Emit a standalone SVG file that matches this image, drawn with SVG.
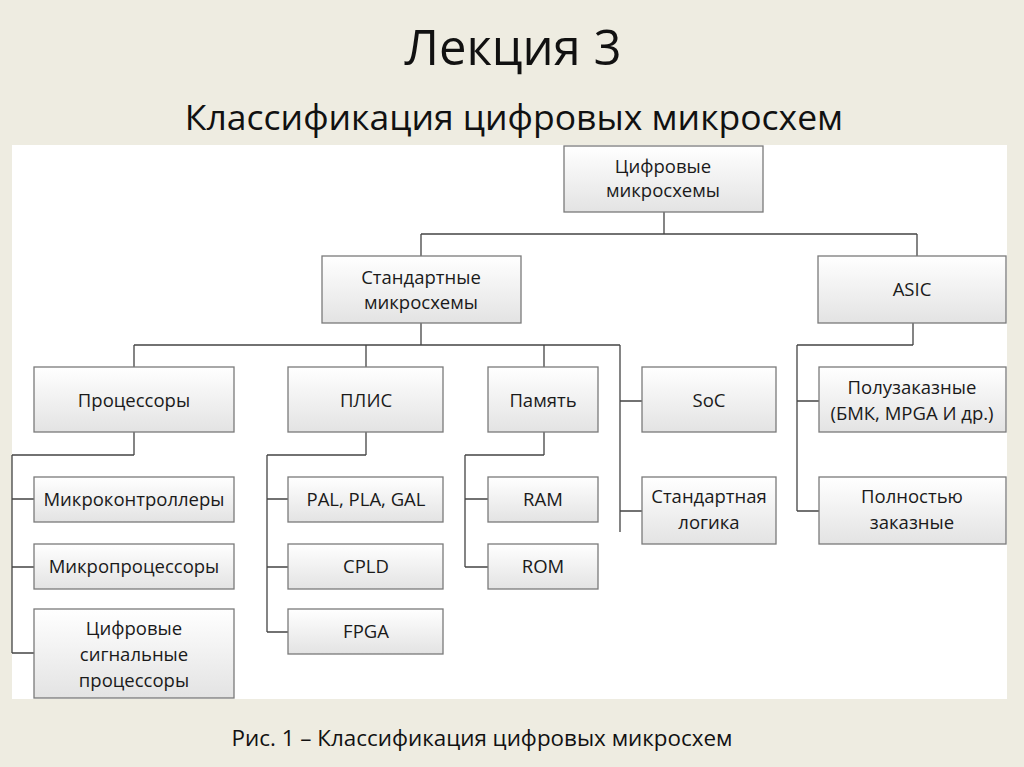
<svg xmlns="http://www.w3.org/2000/svg" width="1024" height="767" viewBox="0 0 1024 767">
<defs>
<linearGradient id="g" x1="0" y1="0" x2="0" y2="1">
<stop offset="0" stop-color="#ffffff"/>
<stop offset="1" stop-color="#e3e3e3"/>
</linearGradient>
<style>
.n rect{fill:url(#g);stroke:#7a7a7a;stroke-width:1.3}
.n text{font-family:"Open Sans","Liberation Sans",sans-serif;font-size:18.5px;fill:#1a1a1a;text-anchor:middle}
#connectors path{fill:none;stroke:#444;stroke-width:1.3}
.t{font-family:"Open Sans","Liberation Sans",sans-serif;fill:#111;text-anchor:middle}
</style>
</defs>
<rect x="0" y="0" width="1024" height="767" fill="#eeece1"/>
<rect x="12" y="145" width="995" height="554" fill="#ffffff"/>
<text class="t" x="513" y="65" font-size="49">Лекция 3</text>
<text class="t" x="514" y="130" font-size="35.5">Классификация цифровых микросхем</text>
<text class="t" x="482" y="746" font-size="22.4">Рис. 1 – Классификация цифровых микросхем</text>

<g id="connectors">
<path d="M664,212V234M421,234H917M421,234V256M917,234V256"/>
<path d="M421,323V345M134,345H620M134,345V367M366,345V367M544,345V367M620,345V532M620,401H642M620,511H642"/>
<path d="M913,323V345M797,345H913M797,345V511M797,401H819M797,511H819"/>
<path d="M134,432V455M12,455H134M12,455V653M12,499H34M12,567H34M12,653H34"/>
<path d="M366,432V455M267,455H366M267,455V632M267,499H288M267,567H288M267,632H288"/>
<path d="M544,432V455M465,455H544M465,455V567M465,499H488M465,567H488"/>
</g>

<g id="n-root" class="n"><rect x="564" y="146" width="199" height="66"/><text x="663" y="173">Цифровые</text><text x="663" y="197">микросхемы</text></g>
<g id="n-std" class="n"><rect x="322" y="256" width="199" height="67"/><text x="421" y="284">Стандартные</text><text x="421" y="309">микросхемы</text></g>
<g id="n-asic" class="n"><rect x="818" y="256" width="188" height="67"/><text x="912" y="296">ASIC</text></g>
<g id="n-proc" class="n"><rect x="34" y="367" width="200" height="65"/><text x="134" y="407">Процессоры</text></g>
<g id="n-plis" class="n"><rect x="288" y="367" width="155" height="65"/><text x="366" y="407">ПЛИС</text></g>
<g id="n-mem" class="n"><rect x="488" y="367" width="110" height="65"/><text x="543" y="407">Память</text></g>
<g id="n-soc" class="n"><rect x="642" y="367" width="134" height="65"/><text x="709" y="407">SoC</text></g>
<g id="n-semi" class="n"><rect x="819" y="367" width="187" height="65"/><text x="912" y="394">Полузаказные</text><text x="912" y="420" font-size="17.5">(БМК, MPGA И др.)</text></g>
<g id="n-mc" class="n"><rect x="34" y="477" width="200" height="45"/><text x="134" y="506">Микроконтроллеры</text></g>
<g id="n-mp" class="n"><rect x="34" y="544" width="200" height="45"/><text x="134" y="573">Микропроцессоры</text></g>
<g id="n-dsp" class="n"><rect x="34" y="609" width="200" height="89"/><text x="134" y="635">Цифровые</text><text x="134" y="661">сигнальные</text><text x="134" y="687">процессоры</text></g>
<g id="n-pal" class="n"><rect x="288" y="477" width="155" height="45"/><text x="366" y="506">PAL, PLA, GAL</text></g>
<g id="n-cpld" class="n"><rect x="288" y="544" width="155" height="45"/><text x="366" y="573">CPLD</text></g>
<g id="n-fpga" class="n"><rect x="288" y="609" width="155" height="45"/><text x="366" y="638">FPGA</text></g>
<g id="n-ram" class="n"><rect x="488" y="477" width="110" height="45"/><text x="543" y="506">RAM</text></g>
<g id="n-rom" class="n"><rect x="488" y="544" width="110" height="45"/><text x="543" y="573">ROM</text></g>
<g id="n-logic" class="n"><rect x="642" y="477" width="134" height="67"/><text x="709" y="503">Стандартная</text><text x="709" y="529">логика</text></g>
<g id="n-full" class="n"><rect x="819" y="477" width="187" height="67"/><text x="912" y="503">Полностью</text><text x="912" y="529">заказные</text></g>
</svg>
